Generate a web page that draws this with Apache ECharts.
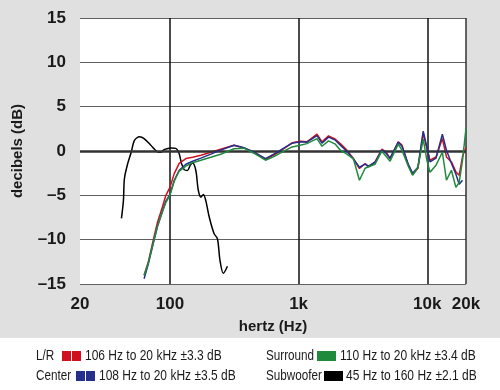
<!DOCTYPE html>
<html><head><meta charset="utf-8">
<script src="https://cdn.jsdelivr.net/npm/echarts@6/dist/echarts.min.js"></script>
<style>html,body{margin:0;padding:0;background:#e0e0e0}#c{width:500px;height:390px}</style>
</head><body><div id="c"></div>
<script>
// Frequencies (Hz) shared by the three main speaker curves
const freqs = [63,68,74,80,87,93,100,108,118,133,150,174,208,248,315,376,449,553,642,767,891,
  1030,1160,1390,1520,1710,1930,2110,2370,2670,2970,3290,3490,3930,4430,4780,5140,5950,6360,
  7120,7690,8460,9300,9930,10500,11700,13100,14100,15400,16700,17700,18800,20000];
const lrValues = [-14.0,-12.5,-10.1,-8.05,-6.4,-5.0,-4.1,
  -2.55,-1.4,-0.85,-0.7,-0.47,-0.15,0.2,
  0.65,0.35,-0.1,-0.93,-0.47,0.28,0.92,
  1.1,1.03,1.9,1.03,1.7,1.33,0.85,
  0.1,-0.85,-1.98,-1.41,-1.8,-1.23,0.2,
  -0.1,-0.85,1.03,0.66,-1.6,-2.66,-1.95,
  1.98,0.28,-1.04,-0.67,1.41,-0.67,-1.23,
  -2.36,-2.74,-0.6,0.4];
const centerValues = [-14.4,-12.7,-10.5,-8.5,-6.9,-5.65,-4.9,
  -3.3,-2.17,-1.5,-1.15,-0.8,-0.35,0.1,
  0.65,0.37,-0.14,-0.87,-0.36,0.32,0.88,
  1.05,1.0,1.73,0.88,1.56,1.22,0.66,
  -0.02,-0.93,-1.83,-1.49,-1.72,-1.27,0.09,
  -0.25,-0.81,1.0,0.54,-1.49,-2.5,-1.83,
  2.24,0.43,-1.23,-0.81,1.9,0.09,-1.38,
  -2.62,-3.76,-3.3,null];
const surroundValues = [-14.05,-12.6,-10.4,-8.5,-6.9,-5.8,-5.0,
  -3.4,-2.26,-1.7,-1.32,-1.04,-0.7,-0.36,
  0.26,0.32,-0.25,-1.04,-0.64,-0.02,0.46,
  0.66,0.83,1.39,0.54,1.14,0.77,0.09,
  -0.35,-0.9,-3.3,-1.95,-1.78,-1.49,-0.02,
  -0.59,-1.15,0.77,0.09,-1.72,-2.74,-1.83,
  1.33,-1.04,-2.4,-1.6,-0.14,-3.3,-2.17,
  -4.1,-3.53,-1.04,2.58];
// Subwoofer curve
const subFreqs = [42,43.5,44.3,47,50,53,58,63,71,80,85,90,102,111,118,123,129,137,144,150,159,166,174,182,190,202,220,234,245,260,280];
const subValues = [-7.6,-5.6,-3.1,-1.4,-0.15,1.2,1.6,1.4,0.65,-0.1,-0.15,0.15,0.35,0.3,-0.3,-1.4,-2.1,-2.2,-1.6,-1.35,-2.2,-4.4,-5.2,-4.9,-5.6,-7.45,-9.3,-9.9,-12.35,-13.8,-13.0];
// Axis ticks
const xTickValues = [20,100,1000,10000,20000];
const xTickLabels = ['20','100','1k','10k','20k'];
const yTicks = [-15,-10,-5,0,5,10,15];
// Legend
const legendNames = ['L/R','Center','Surround','Subwoofer'];
const legendNotes = ['106 Hz to 20 kHz ±3.3 dB','108 Hz to 20 kHz ±3.5 dB','110 Hz to 20 kHz ±3.4 dB','45 Hz to 160 Hz ±2.1 dB'];

const colors = ['#d0101e','#25308c','#1f8a3c','#000000'];
const legendLayout = [
  {nx:36, sx:62, tx:85, y:356, split:true},
  {nx:36, sx:76, tx:99, y:376, split:true},
  {nx:266, sx:317, tx:340, y:356, split:false},
  {nx:266, sx:324, tx:346, y:376, split:false}
];
const legendFont = "'Liberation Sans',Arial,sans-serif";

const pair = (xs, ys) => xs.map((x, i) => [x, ys[i]]);

const graphic = [{type:'rect', shape:{x:0,y:338,width:500,height:52}, style:{fill:'#ffffff'}, silent:true}];
legendNames.forEach((name, i) => {
  const L = legendLayout[i];
  graphic.push({type:'text', x:L.nx, y:L.y, scaleX:0.78, style:{text:name, fill:'#1a1a1a', font:'15px '+legendFont, verticalAlign:'middle'}});
  if (L.split) {
    graphic.push({type:'rect', shape:{x:L.sx, y:L.y-5, width:9, height:10}, style:{fill:colors[i]}});
    graphic.push({type:'rect', shape:{x:L.sx+10, y:L.y-5, width:9, height:10}, style:{fill:colors[i]}});
  } else {
    graphic.push({type:'rect', shape:{x:L.sx, y:L.y-5, width:19, height:10}, style:{fill:colors[i]}});
  }
  graphic.push({type:'text', x:L.tx, y:L.y, scaleX:0.8, style:{text:legendNotes[i], fill:'#1a1a1a', font:'15px '+legendFont, verticalAlign:'middle'}});
});

const labelFont = {fontFamily:"'Liberation Sans',Arial,sans-serif", fontWeight:'bold', color:'#1a1a1a'};

const chart = echarts.init(document.getElementById('c'));
chart.setOption({
  backgroundColor:'#e0e0e0',
  animation:false,
  grid:{left:80, right:34, top:18, bottom:106, show:true, backgroundColor:'#ffffff', borderWidth:0},
  xAxis:{
    type:'log', logBase:10, min:20, max:20000,
    name:'hertz (Hz)', nameLocation:'middle', nameGap:35,
    nameTextStyle:Object.assign({fontSize:15}, labelFont),
    axisLine:{show:false}, axisTick:{show:false},
    axisLabel:Object.assign({fontSize:17, margin:12, showMinLabel:true, showMaxLabel:true,
      formatter:v => { const k = xTickValues.findIndex(t => Math.abs(t - v) / t < 0.01); return k >= 0 ? xTickLabels[k] : ''; }}, labelFont),
    splitLine:{show:true, lineStyle:{color:['rgba(0,0,0,0)','#111111','#111111','#111111','#333333'], width:1.5}}
  },
  yAxis:{
    type:'value', min:yTicks[0], max:yTicks[yTicks.length-1], interval:5,
    name:'decibels (dB)', nameLocation:'middle', nameGap:55,
    nameTextStyle:Object.assign({fontSize:15}, labelFont),
    axisLine:{show:false}, axisTick:{show:false},
    axisLabel:Object.assign({fontSize:17, margin:14, formatter:v => v < 0 ? '\u2013' + Math.abs(v) : String(v)}, labelFont),
    splitLine:{lineStyle:{color:'#606060', width:1}}
  },
  graphic:graphic,
  series:[
    {name:'Subwoofer', type:'line', data:pair(subFreqs, subValues), showSymbol:false, smooth:0.3,
      lineStyle:{color:colors[3], width:1.5}, z:3,
      markLine:{silent:true, symbol:'none', label:{show:false}, lineStyle:{color:'#333333', width:2.5, type:'solid'}, data:[{yAxis:0}]}},
    {name:'L/R', type:'line', data:pair(freqs, lrValues), showSymbol:false, lineStyle:{color:colors[0], width:1.5}, z:4},
    {name:'Center', type:'line', data:pair(freqs, centerValues), showSymbol:false, lineStyle:{color:colors[1], width:1.5}, z:5},
    {name:'Surround', type:'line', data:pair(freqs, surroundValues), showSymbol:false, lineStyle:{color:colors[2], width:1.5}, z:6}
  ]
});
</script></body></html>
